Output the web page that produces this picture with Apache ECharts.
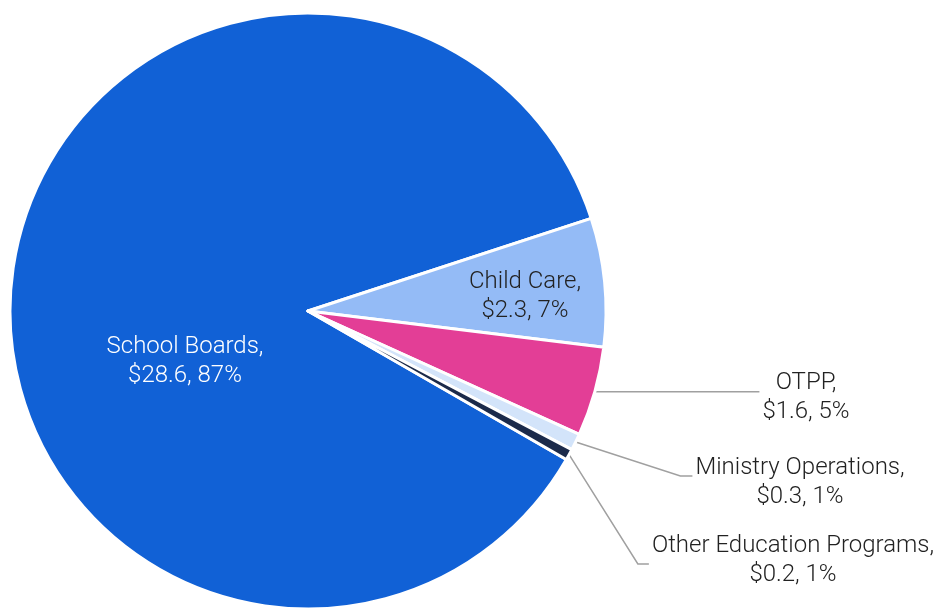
<!DOCTYPE html>
<html>
<head>
<meta charset="utf-8">
<style>
  html, body { margin: 0; padding: 0; background: #ffffff; }
  #chart { width: 936px; height: 608px; }
</style>
<script src="https://cdn.jsdelivr.net/npm/echarts@6/dist/echarts.min.js"></script>
</head>
<body>
<div id="chart"></div>
<script>
// Education spending by area ($ billions)
const categories = ['School Boards', 'Child Care', 'OTPP', 'Ministry Operations', 'Other Education Programs'];
const amounts = [28.6, 2.3, 1.6, 0.3, 0.2];

const sliceColors = ['#1161D6', '#94BBF6', '#E33E96', '#D3E4FA', '#1B2A4A'];
const textColors = ['#FFFFFF', '#222222', '#222222', '#222222', '#222222'];

// Label block centres and leader-line settings for each slice
const labelPlacement = [
  { x: 185, y: 361 },
  { x: 525, y: 296 },
  { x: 806, y: 397, lineY: 392, elbow: 0 },
  { x: 800, y: 482, lineY: 476, elbow: 12 },
  { x: 793, y: 560, lineY: 564, elbow: 11 }
];

const total = amounts.reduce((a, b) => a + b, 0);

const chart = echarts.init(document.getElementById('chart'), null, { renderer: 'canvas' });

const seriesData = categories.map((name, i) => {
  const outside = i >= 2;
  return {
    name: name,
    value: amounts[i],
    itemStyle: { color: sliceColors[i] },
    label: {
      position: outside ? 'outside' : 'inside',
      color: textColors[i]
    },
    labelLine: { show: outside }
  };
});

chart.setOption({
  animation: false,
  series: [{
    type: 'pie',
    center: [308, 311],
    radius: 298,
    startAngle: 330.1,
    clockwise: true,
    avoidLabelOverlap: false,
    itemStyle: { borderColor: '#FFFFFF', borderWidth: 3 },
    label: {
      fontFamily: 'Roboto',
      fontWeight: 300,
      fontSize: 24,
      lineHeight: 29,
      align: 'center',
      formatter: p => p.name + ',\n$' + p.value.toFixed(1) + ', ' + Math.round(p.value / total * 100) + '%'
    },
    labelLine: {
      length: 10,
      length2: 10,
      lineStyle: { color: '#A0A0A0', width: 1.5 }
    },
    labelLayout: function (params) {
      const pos = labelPlacement[params.dataIndex];
      const out = { x: pos.x, y: pos.y, align: 'center', verticalAlign: 'middle' };
      if (params.labelLinePoints && pos.lineY !== undefined) {
        const start = params.labelLinePoints[0];
        const left = pos.x - params.labelRect.width / 2;
        const endX = left - 3;
        const y = pos.elbow ? pos.lineY : start[1];
        out.labelLinePoints = [
          [start[0], start[1]],
          [endX - pos.elbow, y],
          [endX, y]
        ];
      }
      return out;
    },
    data: seriesData
  }]
});
</script>
</body>
</html>
